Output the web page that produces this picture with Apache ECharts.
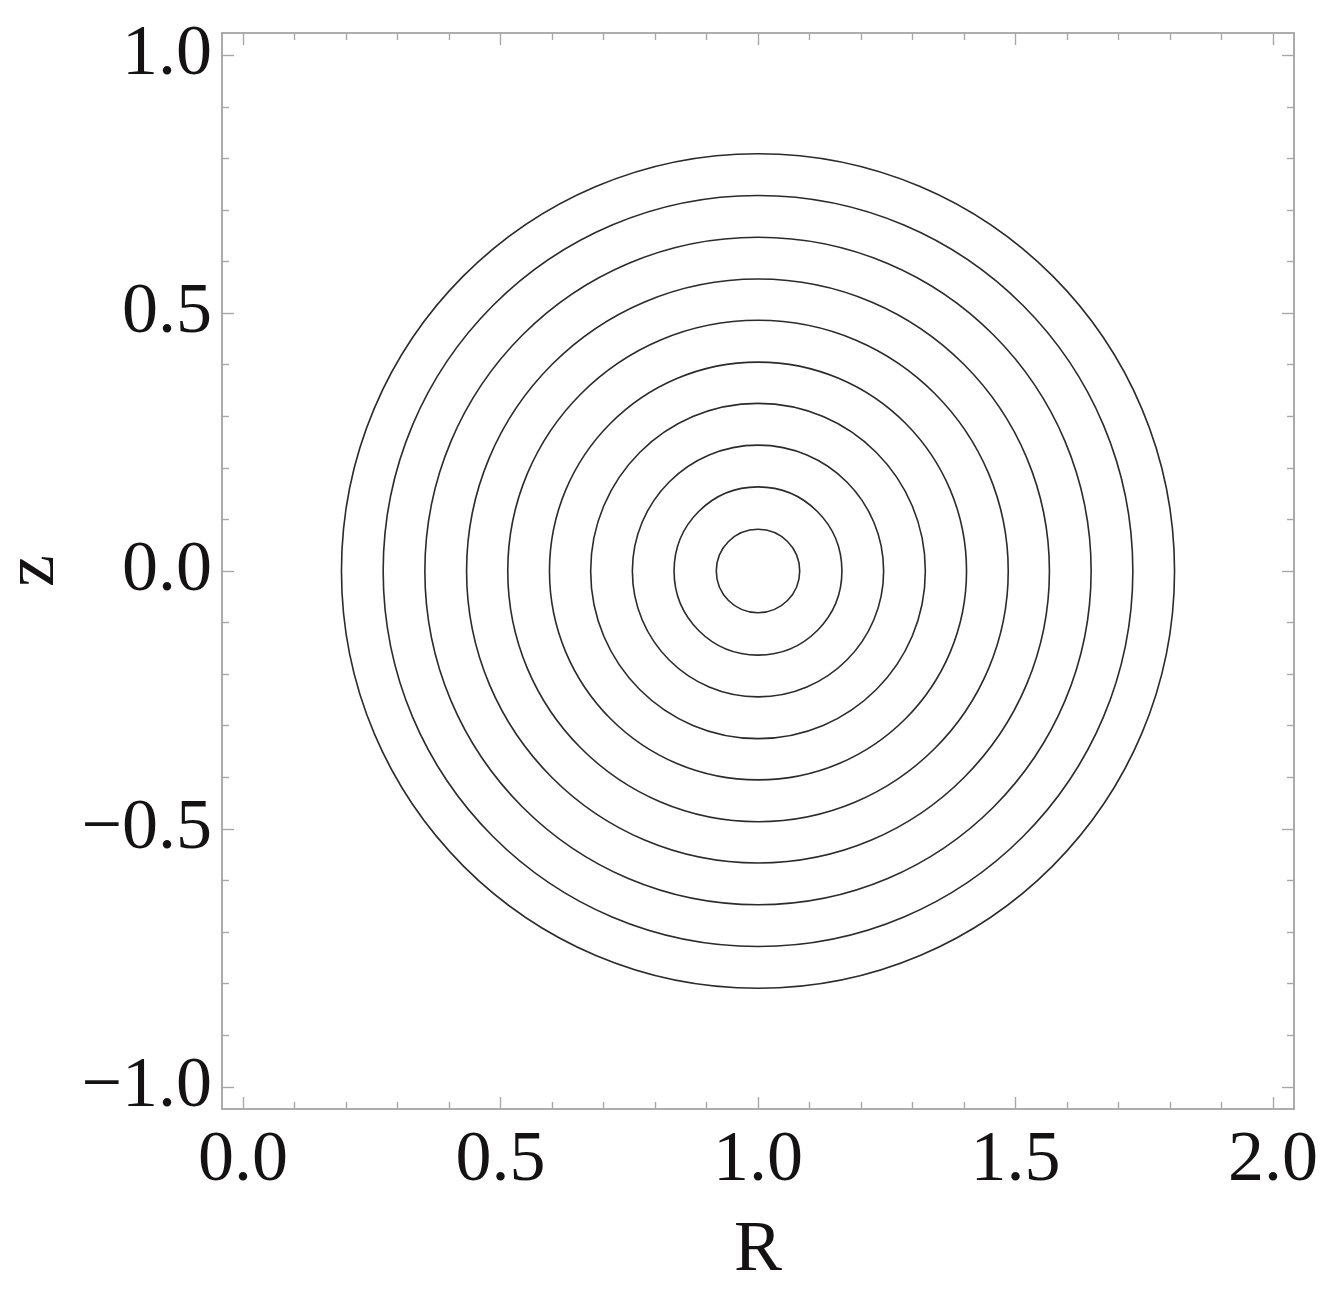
<!DOCTYPE html>
<html>
<head>
<meta charset="utf-8">
<title>R-z contours</title>
<script src="https://cdn.jsdelivr.net/npm/echarts@6/dist/echarts.min.js"></script>
<style>
  html, body { margin: 0; padding: 0; background: #fff; }
  #main { width: 1331px; height: 1291px; }
</style>
</head>
<body>
<div id="main"></div>
<script>
// contour centre and radii
var centerR = 1.0;
var centerZ = 0.0;
var radii = [0.081, 0.163, 0.244, 0.325, 0.405, 0.486, 0.566, 0.647, 0.728, 0.809];

// axis ranges and ticks
var xRange = [-0.041, 2.041];
var yRange = [-1.043, 1.043];
var xMajor = [0, 0.5, 1, 1.5, 2];
var xMinor = [0.1, 0.2, 0.3, 0.4, 0.6, 0.7, 0.8, 0.9, 1.1, 1.2, 1.3, 1.4, 1.6, 1.7, 1.8, 1.9];
var yMajor = [-1, -0.5, 0, 0.5, 1];
var yMinor = [-0.9, -0.8, -0.7, -0.6, -0.4, -0.3, -0.2, -0.1, 0.1, 0.2, 0.3, 0.4, 0.6, 0.7, 0.8, 0.9];

var frameColor = '#a8a8a8';
var textColor = '#141213';
var fontFamily = '"Liberation Serif", "DejaVu Serif", serif';

function fmt(v) {
  var s = Math.abs(v).toFixed(1);
  return v < 0 ? '\u2212' + s : s;
}

// one axis of the frame: major or minor ticks, with or without labels
function makeAxis(kind, pos, range, ticks, len, labels, name) {
  var ax = {
    type: 'value',
    position: pos,
    min: range[0],
    max: range[1],
    gridIndex: 0,
    splitLine: { show: false },
    axisLine: { show: true, onZero: false, lineStyle: { color: frameColor, width: 1.6 } },
    axisTick: {
      show: true,
      inside: true,
      length: len,
      customValues: ticks,
      lineStyle: { color: frameColor, width: 1.4 }
    },
    axisLabel: { show: false }
  };
  if (labels) {
    ax.axisLabel = {
      show: true,
      customValues: labels,
      formatter: fmt,
      color: textColor,
      fontFamily: fontFamily,
      fontSize: 72,
      margin: kind === 'x' ? 16 : 10
    };
  }
  if (name) {
    ax.name = name;
    ax.nameLocation = 'middle';
    ax.nameTextStyle = { color: textColor, fontFamily: fontFamily, fontSize: 72 };
    if (kind === 'x') {
      ax.nameGap = 106;
    } else {
      ax.nameGap = 145;
      ax.nameRotate = 90;
    }
  }
  return ax;
}

var chart = echarts.init(document.getElementById('main'), null, { renderer: 'canvas' });

var option = {
  backgroundColor: '#ffffff',
  animation: false,
  grid: { left: 222, right: 37, top: 33, bottom: 182, containLabel: false, outerBoundsMode: 'none' },
  xAxis: [
    makeAxis('x', 'bottom', xRange, xMajor, 12, xMajor, 'R'),
    makeAxis('x', 'bottom', xRange, xMinor, 7),
    makeAxis('x', 'top', xRange, xMajor, 12),
    makeAxis('x', 'top', xRange, xMinor, 7)
  ],
  yAxis: [
    makeAxis('y', 'left', yRange, yMajor, 12, yMajor, 'z'),
    makeAxis('y', 'left', yRange, yMinor, 7),
    makeAxis('y', 'right', yRange, yMajor, 12),
    makeAxis('y', 'right', yRange, yMinor, 7)
  ],
  series: [{
    type: 'custom',
    xAxisIndex: 0,
    yAxisIndex: 0,
    silent: true,
    data: radii.map(function (r) { return [centerR, centerZ, r]; }),
    renderItem: function (params, api) {
      var c = api.coord([api.value(0), api.value(1)]);
      var s = api.size([api.value(2), api.value(2)]);
      return {
        type: 'ellipse',
        shape: { cx: c[0], cy: c[1], rx: s[0], ry: s[1] },
        style: { fill: null, stroke: '#2b2b2b', lineWidth: 1.6 }
      };
    }
  }]
};

chart.setOption(option);
</script>
</body>
</html>
